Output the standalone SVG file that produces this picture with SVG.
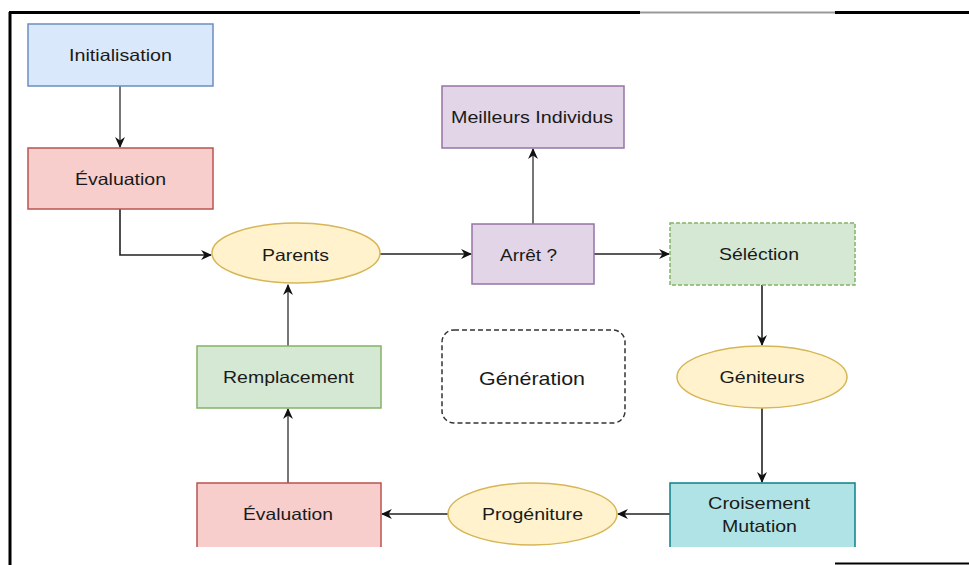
<svg xmlns="http://www.w3.org/2000/svg" width="969" height="565" viewBox="0 0 969 565">
  <style>
    .lbl { font-family: "Liberation Sans", Arial, sans-serif; font-size: 16.5px; fill: #1a1a1a; text-anchor: middle; }
    .big { font-size: 19px; }
    .blue { fill: #dae8fc; stroke: #6c8ebf; stroke-width: 1.5; }
    .red { fill: #f8cecc; stroke: #b85450; stroke-width: 1.5; }
    .purple { fill: #e1d5e7; stroke: #9673a6; stroke-width: 1.5; }
    .green { fill: #d5e8d4; stroke: #82b366; stroke-width: 1.5; }
    .yellow { fill: #fff2cc; stroke: #d6b656; stroke-width: 1.5; }
    .teal { fill: #b0e3e6; stroke: #0e8088; stroke-width: 1.5; }
    .edge { fill: none; stroke: #222; stroke-width: 1.6; marker-end: url(#arrow); }
    .edge.soft { stroke: #555; }
    .frame { stroke: #000; stroke-width: 3; fill: none; }
  </style>
  <defs>
    <marker id="arrow" viewBox="0 0 10 10" refX="9" refY="5" markerWidth="11" markerHeight="11" markerUnits="userSpaceOnUse" orient="auto">
      <path d="M0,0.5 L10,5 L0,9.5 L3,5 Z" fill="#111"/>
    </marker>
    <clipPath id="page">
      <rect x="0" y="0" width="969" height="547"/>
    </clipPath>
  </defs>

  <rect width="969" height="565" fill="#fff"/>

  <!-- page frame -->
  <g id="frame">
    <line class="frame" x1="10" y1="12" x2="10" y2="565"/>
    <line class="frame" x1="9" y1="12.5" x2="640" y2="12.5"/>
    <line x1="640" y1="12.5" x2="835" y2="12.5" stroke="#999" stroke-width="2"/>
    <line class="frame" x1="835" y1="12.5" x2="969" y2="12.5"/>
    <line x1="835" y1="563.5" x2="969" y2="563.5" stroke="#000" stroke-width="2"/>
  </g>

  <g clip-path="url(#page)">
    <g id="connectors">
      <path class="edge soft" d="M120,86 V147"/>
      <path class="edge" d="M120,209 V255 H211"/>
      <path class="edge" d="M380,254 H471"/>
      <path class="edge soft" d="M533,224 V149"/>
      <path class="edge" d="M594,254 H669"/>
      <path class="edge" d="M762,285 V345"/>
      <path class="edge" d="M762,408 V482"/>
      <path class="edge" d="M670,514 H618"/>
      <path class="edge" d="M448,514 H382"/>
      <path class="edge soft" d="M288,483 V409"/>
      <path class="edge soft" d="M288,346 V285"/>
    </g>

    <g id="initialisation">
      <rect class="blue" x="28" y="24" width="185" height="62"/>
      <text class="lbl" x="120.5" y="61" textLength="103" lengthAdjust="spacingAndGlyphs">Initialisation</text>
    </g>

    <g id="evaluation-1">
      <rect class="red" x="28" y="148" width="185" height="61"/>
      <text class="lbl" x="120.5" y="185" textLength="91" lengthAdjust="spacingAndGlyphs">Évaluation</text>
    </g>

    <g id="parents">
      <ellipse class="yellow" cx="296" cy="253" rx="84" ry="30"/>
      <text class="lbl" x="295.5" y="261" textLength="67" lengthAdjust="spacingAndGlyphs">Parents</text>
    </g>

    <g id="meilleurs">
      <rect class="purple" x="442" y="86" width="182" height="62"/>
      <text class="lbl" x="532" y="123" textLength="162" lengthAdjust="spacingAndGlyphs">Meilleurs Individus</text>
    </g>

    <g id="arret">
      <rect class="purple" x="472" y="224" width="122" height="60"/>
      <text class="lbl" x="528.5" y="261" textLength="57" lengthAdjust="spacingAndGlyphs">Arrêt ?</text>
    </g>

    <g id="selection">
      <rect class="green" x="670" y="223" width="185" height="62" stroke-dasharray="4 2"/>
      <text class="lbl" x="759" y="260" textLength="80" lengthAdjust="spacingAndGlyphs">Séléction</text>
    </g>

    <g id="geniteurs">
      <ellipse class="yellow" cx="762" cy="377" rx="85" ry="31"/>
      <text class="lbl" x="762" y="383" textLength="85" lengthAdjust="spacingAndGlyphs">Géniteurs</text>
    </g>

    <g id="generation">
      <rect x="442" y="330" width="183" height="93" rx="12" fill="none" stroke="#333" stroke-width="1.5" stroke-dasharray="5 3"/>
      <text class="lbl big" x="532" y="385" textLength="106" lengthAdjust="spacingAndGlyphs">Génération</text>
    </g>

    <g id="remplacement">
      <rect class="green" x="197" y="346" width="184" height="62"/>
      <text class="lbl" x="288.5" y="383" textLength="131" lengthAdjust="spacingAndGlyphs">Remplacement</text>
    </g>

    <g id="croisement">
      <rect class="teal" x="670" y="483" width="185" height="80"/>
      <text class="lbl" x="759" y="509" textLength="102" lengthAdjust="spacingAndGlyphs">Croisement</text>
      <text class="lbl" x="759.5" y="532" textLength="75" lengthAdjust="spacingAndGlyphs">Mutation</text>
    </g>

    <g id="progeniture">
      <ellipse class="yellow" cx="532.5" cy="514" rx="84.5" ry="31"/>
      <text class="lbl" x="532.5" y="520" textLength="101" lengthAdjust="spacingAndGlyphs">Progéniture</text>
    </g>

    <g id="evaluation-2">
      <rect class="red" x="197" y="483" width="184" height="80"/>
      <text class="lbl" x="288" y="520" textLength="90" lengthAdjust="spacingAndGlyphs">Évaluation</text>
    </g>
  </g>
</svg>
